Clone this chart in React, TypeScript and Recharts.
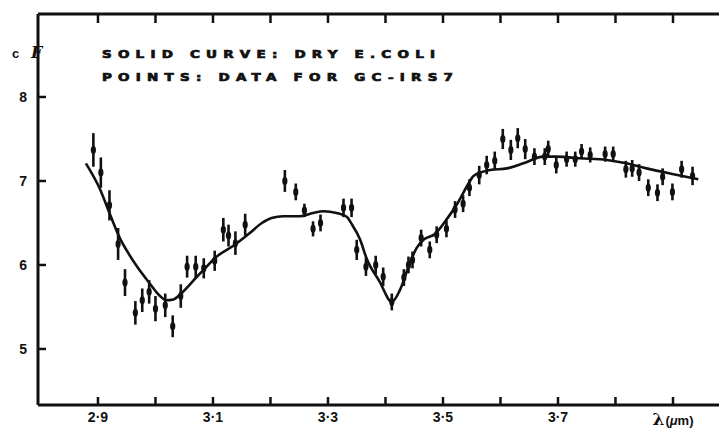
import { ComposedChart, ErrorBar, Line, Scatter, XAxis, YAxis } from 'recharts'

// GC-IRS7 points: wavelength (um), flux, error half-length
const waveLengths = [
  2.892, 2.905, 2.92, 2.935, 2.947, 2.965, 2.977, 2.989, 3.0, 3.017, 3.03, 3.044,
  3.055, 3.07, 3.084, 3.103, 3.118, 3.127, 3.139, 3.156, 3.225, 3.244, 3.259, 3.274,
  3.287, 3.327, 3.341, 3.35, 3.366, 3.383, 3.396, 3.411, 3.432, 3.44, 3.447, 3.462,
  3.477, 3.489, 3.506, 3.521, 3.535, 3.546, 3.563, 3.576, 3.59, 3.604, 3.618, 3.63,
  3.643, 3.659, 3.677, 3.683, 3.697, 3.715, 3.73, 3.741, 3.756, 3.782, 3.796, 3.818,
  3.829, 3.841, 3.857, 3.873, 3.882, 3.899, 3.915, 3.934,
]
const fluxValues = [
  7.37, 7.1, 6.71, 6.25, 5.79, 5.43, 5.58, 5.68, 5.48, 5.52, 5.27, 5.63,
  5.98, 5.98, 5.96, 6.05, 6.42, 6.35, 6.26, 6.48, 7.0, 6.87, 6.65, 6.43,
  6.5, 6.68, 6.68, 6.18, 5.98, 6.0, 5.86, 5.56, 5.85, 6.0, 6.06, 6.32,
  6.18, 6.36, 6.43, 6.66, 6.73, 6.92, 7.07, 7.19, 7.24, 7.5, 7.37, 7.51,
  7.38, 7.29, 7.29, 7.38, 7.19, 7.26, 7.26, 7.35, 7.31, 7.32, 7.32, 7.14,
  7.15, 7.1, 6.92, 6.86, 7.05, 6.87, 7.14, 7.06,
]
const fluxErrors = [
  0.2, 0.18, 0.18, 0.19, 0.16, 0.14, 0.14, 0.14, 0.15, 0.14, 0.13, 0.14,
  0.13, 0.13, 0.12, 0.12, 0.14, 0.13, 0.14, 0.13, 0.13, 0.1, 0.08, 0.09,
  0.1, 0.11, 0.11, 0.12, 0.11, 0.11, 0.11, 0.1, 0.1, 0.1, 0.1, 0.1,
  0.1, 0.1, 0.1, 0.1, 0.1, 0.1, 0.11, 0.11, 0.11, 0.12, 0.12, 0.12,
  0.12, 0.1, 0.1, 0.1, 0.1, 0.09, 0.09, 0.09, 0.09, 0.09, 0.09, 0.1,
  0.1, 0.1, 0.1, 0.1, 0.1, 0.1, 0.1, 0.11,
]

// dry E. coli curve
const curveWaves = [
  2.879, 2.903, 2.921, 2.938, 2.952, 2.967, 2.99, 3.008, 3.019, 3.031, 3.046, 3.072,
  3.089, 3.103, 3.138, 3.164, 3.185, 3.202, 3.222, 3.251, 3.274, 3.292, 3.315, 3.333,
  3.341, 3.356, 3.367, 3.39, 3.411, 3.425, 3.44, 3.454, 3.466, 3.486, 3.506, 3.524,
  3.547, 3.553, 3.582, 3.611, 3.64, 3.674, 3.698, 3.738, 3.785, 3.819, 3.854, 3.901,
  3.944,
]
const curveFlux = [
  7.21, 6.91, 6.6, 6.32, 6.15, 5.99, 5.78, 5.63, 5.58, 5.59, 5.67, 5.86,
  5.98, 6.08, 6.24, 6.38, 6.5, 6.56, 6.58, 6.58, 6.62, 6.64, 6.62, 6.57,
  6.49, 6.3, 6.08, 5.8, 5.56, 5.7, 5.98, 6.2, 6.3, 6.37, 6.54, 6.72,
  7.0, 7.06, 7.13, 7.15, 7.21, 7.29, 7.29, 7.27, 7.25, 7.21, 7.15, 7.08,
  7.02,
]

const xTicks = [2.9, 3.0, 3.1, 3.2, 3.3, 3.4, 3.5, 3.6, 3.7, 3.8, 3.9]
const xTickLabels = ['2·9', '', '3·1', '', '3·3', '', '3·5', '', '3·7', '', 'λ']
const yTicks = [5, 6, 7, 8]

const pointData = waveLengths.map((x, i) => ({ x, y: fluxValues[i], err: fluxErrors[i] }))
const curveData = curveWaves.map((x, i) => ({ x, y: curveFlux[i] }))

const ink = '#111'
const labelFont = '"Liberation Sans", Arial, sans-serif'
const stencilFont = '"DejaVu Sans", sans-serif'

const BottomTick = (props: any) => {
  const { x, y, payload } = props
  const i = xTicks.findIndex((t) => Math.abs(t - payload.value) < 1e-6)
  const label = xTickLabels[i]
  return (
    <g>
      <line x1={x} x2={x} y1={y} y2={y - 8} stroke={ink} strokeWidth={2.5} />
      {label === 'λ' ? (
        <text x={x} y={y + 20} textAnchor='middle' fill={ink} fontWeight='bold' fontFamily={labelFont} fontSize={13}>
          <tspan fontFamily='"DejaVu Serif", serif' fontSize={17}>λ</tspan>
          <tspan dx={1}>(</tspan>
          <tspan fontStyle='italic'>μ</tspan>
          <tspan>m)</tspan>
        </text>
      ) : label ? (
        <text x={x} y={y + 17} textAnchor='middle' fill={ink} fontWeight='bold' fontFamily={labelFont} fontSize={14}>
          {label}
        </text>
      ) : null}
    </g>
  )
}

const TopTick = (props: any) => {
  const { x, y } = props
  return <line x1={x} x2={x} y1={y} y2={y + 9} stroke={ink} strokeWidth={2.5} />
}

const LeftTick = (props: any) => {
  const { x, y, payload } = props
  return (
    <g>
      <line x1={x} x2={x + 8} y1={y} y2={y} stroke={ink} strokeWidth={2.5} />
      <text x={x - 11} y={y + 5} textAnchor='end' fill={ink} fontWeight='bold' fontFamily={labelFont} fontSize={14}>
        {payload.value}
      </text>
    </g>
  )
}

const PointMark = (props: any) => {
  const { cx, cy } = props
  return <ellipse cx={cx} cy={cy} rx={2.6} ry={4} fill={ink} />
}

const axisLine = { stroke: ink, strokeWidth: 3 }

// wide, heavy lettering for the two key lines
const StencilLine = ({ x, y, width, children }: any) => (
  <g transform={`translate(${x},${y}) scale(1.35,1)`}>
    <text
      x={0}
      y={0}
      fill={ink}
      stroke={ink}
      strokeWidth={0.7}
      fontWeight='bold'
      fontFamily={stencilFont}
      fontSize={10}
      textLength={width / 1.35}
      lengthAdjust='spacing'
    >
      {children}
    </text>
  </g>
)

export default function App() {
  return (
    <div style={{ position: 'absolute', left: 0, top: 0, width: 719, height: 428, background: '#fff' }}>
      <ComposedChart width={719} height={428} margin={{ top: 0, right: 0, bottom: 0, left: 0 }}>
        <XAxis
          xAxisId='top'
          orientation='top'
          type='number'
          dataKey='x'
          domain={[2.7957, 3.98]}
          ticks={xTicks}
          allowDataOverflow
          height={14}
          tickSize={0}
          tickMargin={0}
          tickLine={false}
          axisLine={axisLine}
          tick={TopTick}
        />
        <XAxis
          type='number'
          dataKey='x'
          domain={[2.7957, 3.98]}
          ticks={xTicks}
          allowDataOverflow
          height={23}
          tickSize={0}
          tickMargin={0}
          tickLine={false}
          axisLine={axisLine}
          tick={BottomTick}
          interval={0}
        />
        <YAxis
          type='number'
          dataKey='y'
          domain={[4.333, 8.988]}
          ticks={yTicks}
          allowDataOverflow
          width={38}
          tickSize={0}
          tickMargin={0}
          tickLine={false}
          axisLine={axisLine}
          tick={LeftTick}
          interval={0}
        />
        <Line
          data={curveData}
          dataKey='y'
          type='monotone'
          stroke={ink}
          strokeWidth={2.6}
          dot={false}
          activeDot={false}
          isAnimationActive={false}
        />
        <Scatter data={pointData} dataKey='y' shape={PointMark} isAnimationActive={false}>
          <ErrorBar dataKey='err' direction='y' width={0} stroke={ink} strokeWidth={2.6} />
        </Scatter>
      </ComposedChart>
      <svg width={719} height={428} style={{ position: 'absolute', left: 0, top: 0, pointerEvents: 'none' }}>
        <text x={12} y={57.5} fill={ink} fontWeight='bold' fontFamily={labelFont} fontSize={13}>c</text>
        <text x={31} y={58} fill={ink} fontWeight='bold' fontStyle='italic' fontFamily='"DejaVu Serif", serif' fontSize={16}>F</text>
        <StencilLine x={102} y={57.5} width={333}>SOLID CURVE: DRY E.COLI</StencilLine>
        <StencilLine x={102} y={81} width={351}>POINTS: DATA FOR GC-IRS7</StencilLine>
      </svg>
    </div>
  )
}
